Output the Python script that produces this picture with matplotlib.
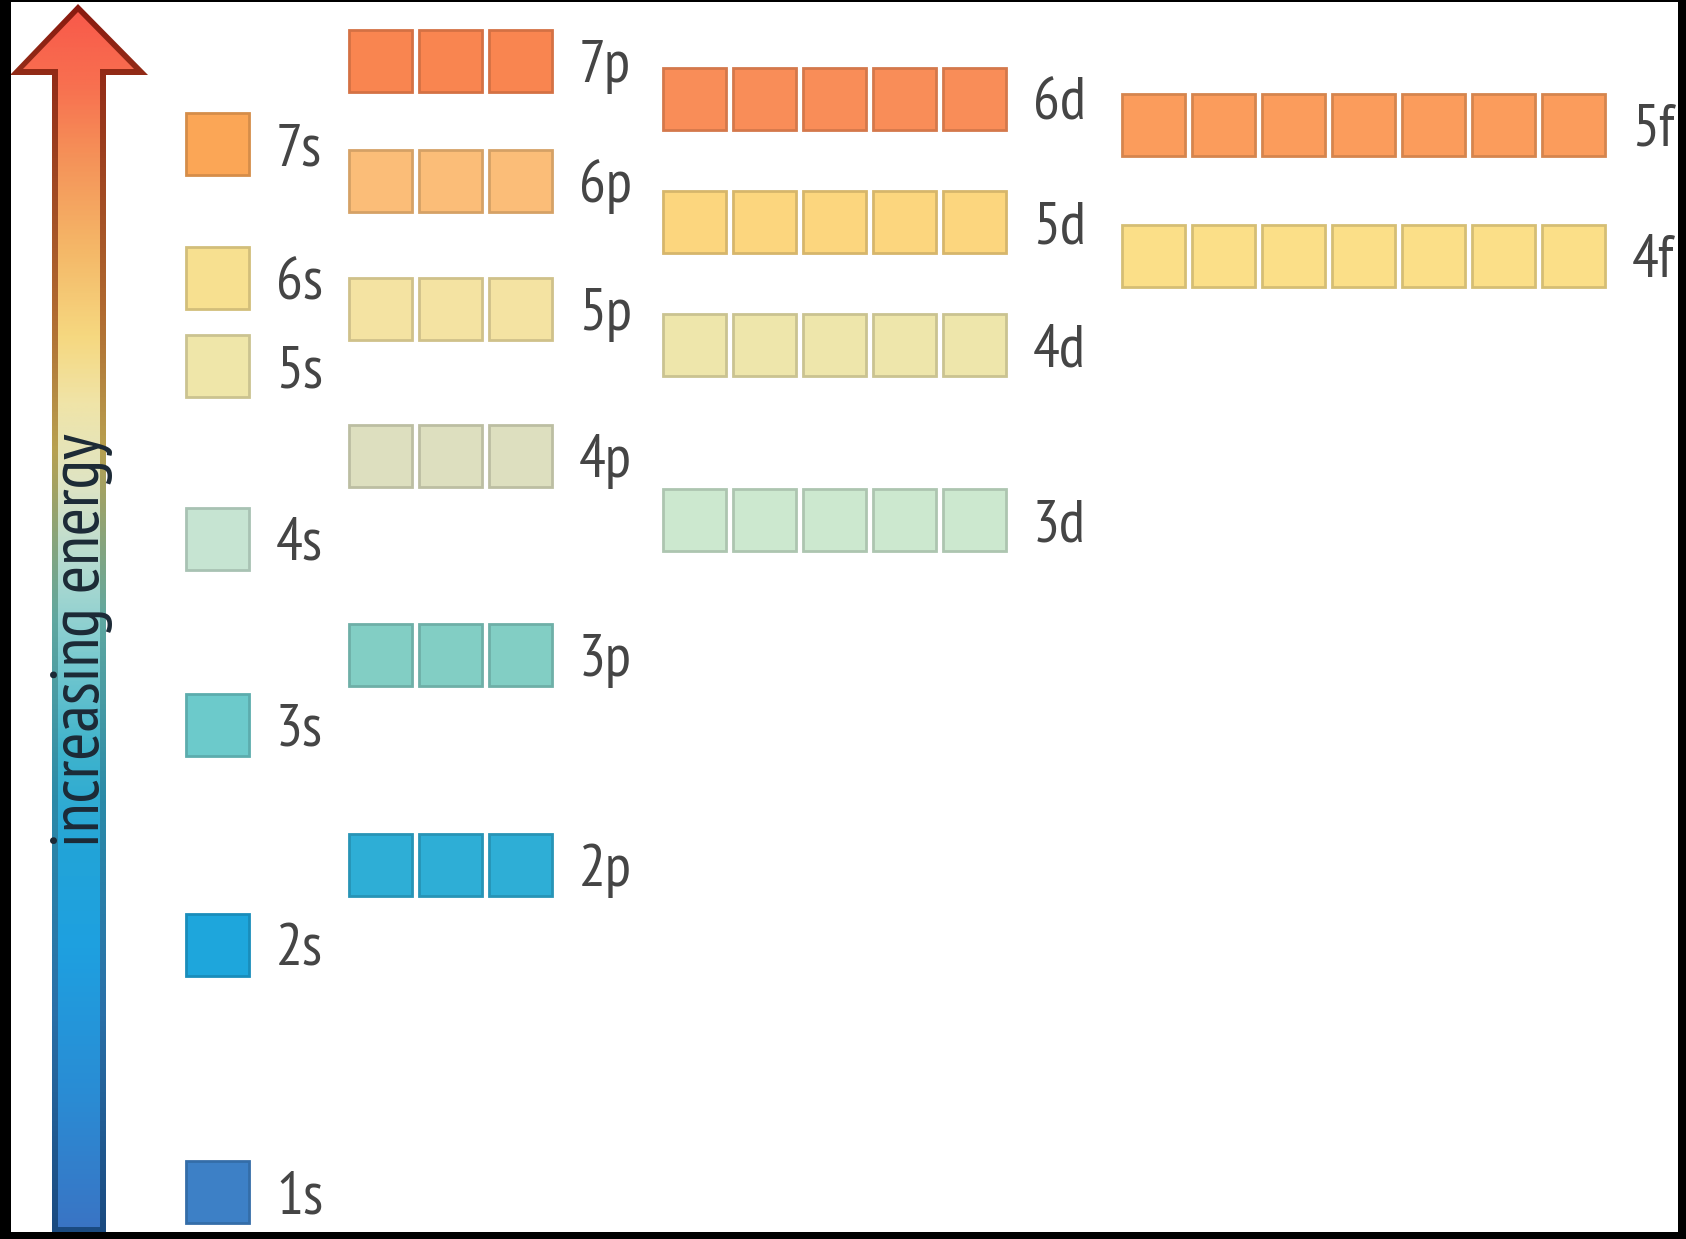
import matplotlib
matplotlib.use("Agg")
import matplotlib.pyplot as plt
import numpy as np
from matplotlib.colors import LinearSegmentedColormap, to_rgb
from matplotlib.patches import Polygon, Rectangle

# ---------------- data ----------------
orbitals = ['1s', '2s', '2p', '3s', '3p', '4s', '3d', '4p', '5s', '4d',
            '5p', '6s', '4f', '5d', '6p', '7s', '5f', '6d', '7p']
# relative energy level (arbitrary units)
energy = [0.47, 2.94, 3.74, 5.14, 5.84, 7.00, 7.19, 7.83, 8.73, 8.94,
          9.30, 9.61, 9.83, 10.17, 10.58, 10.95, 11.14, 11.40, 11.78]
boxes_per_subshell = {'s': 1, 'p': 3, 'd': 5, 'f': 7}
axis_label = 'increasing energy'

# ---------------- styles ----------------
box_colors = {
    '1s': '#3d80c6', '2s': '#1ea6dc', '2p': '#2eaed6', '3s': '#6ccacb',
    '3p': '#82cec4', '4s': '#c6e4d2', '3d': '#cce8cf', '4p': '#dddfbf',
    '5s': '#efe6a9', '4d': '#eee6ab', '5p': '#f4e3a2', '6s': '#f7e090',
    '4f': '#fbdf88', '5d': '#fcd67e', '6p': '#fbbd78', '7s': '#fba656',
    '5f': '#fb9c5c', '6d': '#f98d58', '7p': '#f98550',
}
col_x0 = {'s': 186, 'p': 349, 'd': 663, 'f': 1122}
box_w, pitch, box_h = 63, 70, 0.62
FONT = ['PT Sans Narrow', 'DejaVu Sans']

W, H = 1686, 1239
fig = plt.figure(figsize=(W / 100, H / 100), dpi=100)
fig.patch.set_facecolor('white')

# pixel overlay for decoration (arrow, frame)
axp = fig.add_axes([0, 0, 1, 1])
axp.set_xlim(0, W)
axp.set_ylim(H, 0)
axp.axis('off')

# main data axes: x in pixels, y in energy units
ax = fig.add_axes([0, 0, 1, 1])
ax.set_xlim(0, W)
ax.set_ylim(0, H / 100)
ax.axis('off')
ax.patch.set_alpha(0)


def darker(c, f=0.85):
    r, g, b = to_rgb(c)
    return (r * f, g * f, b * f)


for orb, e in zip(orbitals, energy):
    sub = orb[1]
    n = boxes_per_subshell[sub]
    xs = [col_x0[sub] + i * pitch for i in range(n)]
    ax.bar(xs, [box_h] * n, bottom=e - box_h / 2, width=box_w, align='edge',
           color=box_colors[orb], edgecolor=darker(box_colors[orb]),
           linewidth=2.0, zorder=3)
    ax.text(xs[-1] + box_w + 27, e - 0.21, orb, ha='left', va='baseline',
            fontsize=43, family=FONT, color='#454545', zorder=4)

# ---------------- gradient arrow ----------------
outer_stops = [(0.0, '#8a1a10'), (0.25, '#b06a30'), (0.36, '#b8a050'),
               (0.5, '#60a8a0'), (0.65, '#2a8aa8'), (0.82, '#2a70a8'),
               (1.0, '#1a4a80')]
inner_stops = [(0.0, '#f8584a'), (0.065, '#f87050'), (0.12, '#f59058'),
               (0.2, '#f4b868'), (0.27, '#f6d880'), (0.325, '#f0e4a8'),
               (0.39, '#dfe4c4'), (0.45, '#b8dcd0'), (0.525, '#80ccd0'),
               (0.605, '#40b4cc'), (0.69, '#22a4d8'), (0.77, '#1ea0e0'),
               (0.89, '#2a8cd4'), (1.0, '#3a74c4')]
cm_out = LinearSegmentedColormap.from_list('out', outer_stops)
cm_in = LinearSegmentedColormap.from_list('in', inner_stops)
grad = np.linspace(0, 1, 512).reshape(-1, 1)

outer_poly = [(52, 1232), (52, 75), (10, 75), (78, 4), (148, 75),
              (106, 75), (106, 1232)]
inner_poly = [(58, 1227), (58, 69), (23, 69), (78, 12), (134, 69),
              (100, 69), (100, 1227)]
for poly, cm in ((outer_poly, cm_out), (inner_poly, cm_in)):
    im = axp.imshow(grad, extent=(0, 160, 1232, 4), cmap=cm, aspect='auto',
                    interpolation='bilinear', zorder=2)
    patch = Polygon(poly, closed=True, facecolor='none', edgecolor='none')
    axp.add_patch(patch)
    im.set_clip_path(patch)

axp.text(82, 640, axis_label, rotation=90, ha='center', va='center',
         fontsize=49, family=FONT, color='#1c2a36', zorder=5)

# ---------------- black frame ----------------
for (x, y, w, h) in [(0, 0, 11, H), (1678, 0, 8, H), (0, 1232, W, 7), (0, 0, W, 2)]:
    rect = Rectangle((x, y), w, h, facecolor='black', edgecolor='none',
                     transform=axp.transData, zorder=10)
    fig.patches.append(rect)
    rect.set_figure(fig)

fig.savefig('out.png', dpi=100, facecolor='white')
